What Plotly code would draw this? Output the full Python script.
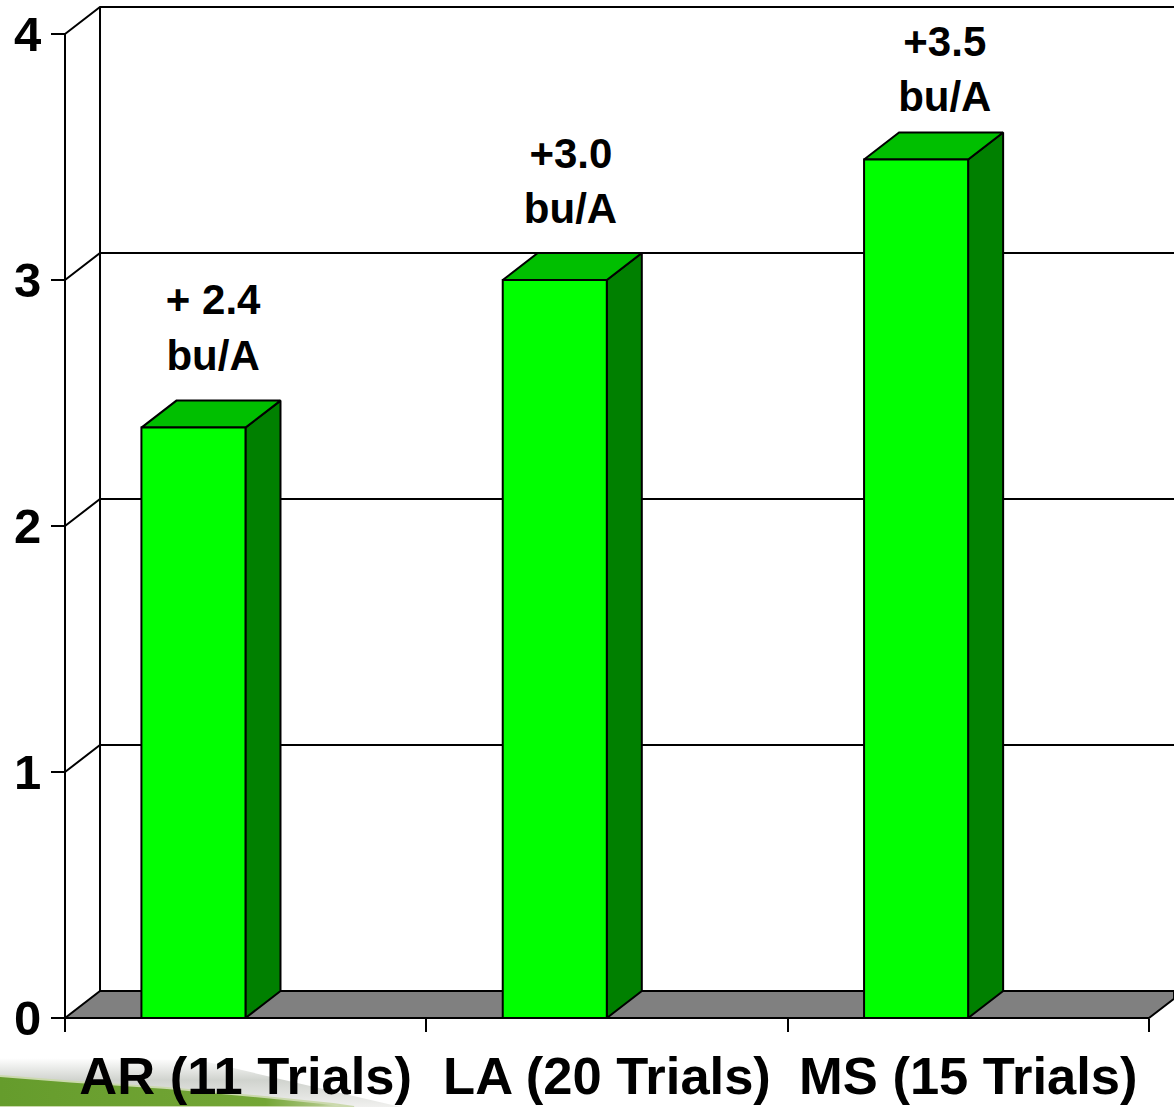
import plotly.graph_objects as go

FONT = "Liberation Sans"

# Data
categories = ["AR (11 Trials)", "LA (20 Trials)", "MS (15 Trials)"]
values = [2.4, 3.0, 3.49]
label_text = ["<b>+ 2.4</b>", "<b>bu/A</b>", "<b>+3.0</b>", "<b>bu/A</b>", "<b>+3.5</b>", "<b>bu/A</b>"]
label_x = [0.410, 0.410, 1.400, 1.399, 2.435, 2.435]
label_y = [2.903, 2.675, 3.498, 3.273, 3.953, 3.728]
y_ticks = [0, 1, 2, 3, 4]

# Chart geometry in axis units
bar_left = 0.2115
bar_width = 0.288
depth_x = 0.0969
depth_y = 0.1098
x_min, x_max = -0.17989, 3.0693
y_min, y_max = -0.3618, 4.1382

# Background grass strip, in axis units
haze_x = [x_min, 0.37, 0.93, x_min]
haze_y = [-0.163, -0.171, y_min, y_min]
grass_x = [x_min, 0.014, 0.282, 0.559, 0.742, 0.80, x_min]
grass_y = [-0.236, -0.258, -0.285, -0.322, -0.350, y_min, y_min]

LINE = dict(color="black", width=2)
fig = go.Figure()


def poly(xs, ys, fill, line=LINE):
    fig.add_trace(go.Scatter(
        x=xs + xs[:1], y=ys + ys[:1], mode="lines", fill="toself",
        fillcolor=fill, line=line, hoverinfo="skip", showlegend=False))


def path(xs, ys):
    fig.add_trace(go.Scatter(
        x=xs, y=ys, mode="lines", line=LINE, hoverinfo="skip", showlegend=False))


# Grass decoration
fig.add_trace(go.Scatter(
    x=haze_x, y=haze_y, mode="lines", fill="toself", line=dict(width=0),
    fillgradient=dict(type="vertical", colorscale=[
        [0, "#f0f0ee"], [0.55, "#d0d3ce"], [1, "#ffffff"]]),
    hoverinfo="skip", showlegend=False))
fig.add_trace(go.Scatter(
    x=grass_x, y=grass_y, mode="lines", fill="toself",
    line=dict(width=2, color="#cbd9ad"),
    fillgradient=dict(type="horizontal", colorscale=[
        [0, "#659c2c"], [0.75, "#74a636"], [0.9, "#a9c47e"], [1, "#f4f6ee"]]),
    hoverinfo="skip", showlegend=False))

# Front axis line, back wall and gridlines
path([0, 0], [0, 4])
for v in y_ticks[1:]:
    path([0, depth_x, x_max], [v, v + depth_y, v + depth_y])
path([depth_x, depth_x], [depth_y, 4 + depth_y])

# Floor
poly([0, depth_x, x_max, x_max, 3], [0, depth_y, depth_y, 0.0785, 0], "#808080")

# Bars
for i, v in enumerate(values):
    x0 = i + bar_left
    x1 = x0 + bar_width
    poly([x1, x1 + depth_x, x1 + depth_x, x1], [0, depth_y, v + depth_y, v], "#008000")
    poly([x0, x1, x1 + depth_x, x0 + depth_x], [v, v, v + depth_y, v + depth_y], "#00BF00")
    poly([x0, x1, x1, x0], [0, 0, v, v], "#00FF00")

# Front baseline on top of the bars
path([0, 3], [0, 0])

# Value labels
fig.add_trace(go.Scatter(
    x=label_x, y=label_y, mode="text", text=label_text, textposition="middle center",
    textfont=dict(family=FONT, size=42, color="black"),
    hoverinfo="skip", showlegend=False))

fig.update_layout(
    width=1174, height=1107,
    margin=dict(l=0, r=0, t=0, b=0, autoexpand=False),
    paper_bgcolor="white", plot_bgcolor="rgba(0,0,0,0)",
    showlegend=False,
    xaxis=dict(
        range=[x_min, x_max], anchor="free", position=-y_min / (y_max - y_min),
        tickvals=[0.5, 1.5, 2.5], ticktext=[f"<b>{c}</b>" for c in categories],
        ticks="", showgrid=False, zeroline=False, showline=False, automargin=False,
        tickfont=dict(family=FONT, size=52.5, color="black"), ticklabelstandoff=23,
        minor=dict(tickvals=[0, 1, 2, 3], ticks="outside", ticklen=13, tickwidth=2,
                   tickcolor="black", showgrid=False),
    ),
    yaxis=dict(
        range=[y_min, y_max], anchor="free", position=-x_min / (x_max - x_min),
        tickvals=y_ticks, ticktext=[f"<b>{t}</b>" for t in y_ticks],
        ticks="outside", ticklen=14, tickwidth=2, tickcolor="black",
        showgrid=False, zeroline=False, showline=False,
        automargin=False, tickfont=dict(family=FONT, size=49, color="black"),
    ),
)

fig.write_html("out.html", config={"displayModeBar": False},
               post_script="document.body.style.margin='0';window.dispatchEvent(new Event('resize'));")
